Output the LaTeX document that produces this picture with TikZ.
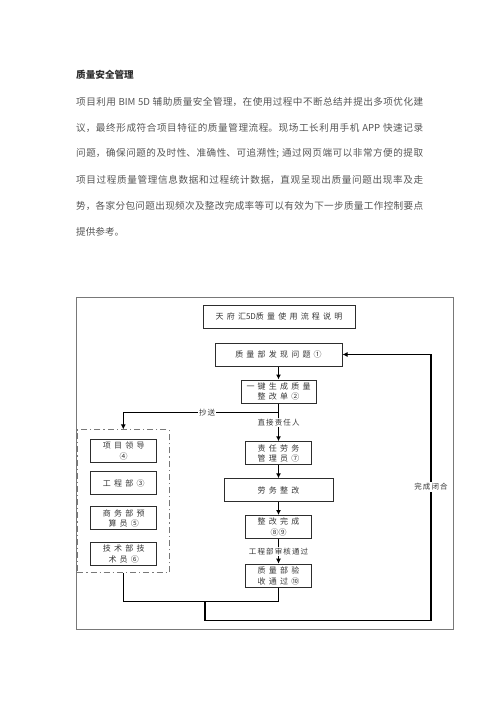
\documentclass[tikz,border=0pt]{standalone}
\usepackage{fontspec}
\usepackage{xcolor}
\setmainfont{Noto Sans CJK SC}
\newfontfamily\boxfont[LetterSpace=40]{Noto Sans CJK SC}
\newfontfamily\lblfont[LetterSpace=15]{Noto Sans CJK SC}
\usetikzlibrary{arrows.meta,positioning}
\XeTeXlinebreaklocale "zh"
\XeTeXlinebreakskip=0pt plus 1pt
\definecolor{bodygray}{RGB}{85,85,85}
\definecolor{headgray}{RGB}{45,45,45}
\definecolor{textgray}{RGB}{55,55,55}
\definecolor{boxline}{RGB}{45,45,45}
\definecolor{framegray}{RGB}{120,120,120}
\newcommand\paraline[1]{\vbox{\hsize=347pt\parindent=0pt\parfillskip=0pt\leavevmode #1\par}}
\newcommand\tight[1]{{\addfontfeatures{LetterSpace=0.0}#1}}

\begin{document}
\begin{tikzpicture}[
  x=1pt, y=-1pt,
  para/.style={anchor=west, inner sep=0pt, text=bodygray, font=\fontsize{9.6}{12}\selectfont},
  proc/.style={draw=boxline, line width=1pt, align=center, minimum height=23pt, inner sep=1pt, fill=white, text=textgray, font=\boxfont\fontsize{8}{10.5}\selectfont},
  lbl/.style={fill=white, inner sep=1pt, text=textgray, font=\lblfont\fontsize{7.5}{9}\selectfont},
  arrow/.style={-{Latex[length=5pt,width=5pt]}, line width=1.1pt},
  link/.style={line width=1.1pt},
  ccbox/.style={draw=framegray, line width=1pt, dash pattern=on 6pt off 3pt on 1.2pt off 3pt, minimum width=92pt, minimum height=142.7pt}
]
\useasboundingbox (0,0) rectangle (500,707);

% text above the chart
\node[para, text=headgray, font=\bfseries\fontsize{9.6}{12}\selectfont] (head) at (76,75) {质量安全管理};
\node[para] (l1) at (76,101.7) {\paraline{项目利用 BIM 5D 辅助质量安全管理，在使用过程中不断总结并提出多项优化建}};
\node[para] (l2) at (76,127.7) {\paraline{议，最终形成符合项目特征的质量管理流程。现场工长利用手机 APP 快速记录}};
\node[para] (l3) at (76,153.7) {\paraline{问题，确保问题的及时性、准确性、可追溯性; 通过网页端可以非常方便的提取}};
\node[para] (l4) at (76,179.7) {\paraline{项目过程质量管理信息数据和过程统计数据，直观呈现出质量问题出现率及走}};
\node[para] (l5) at (76,205.7) {\paraline{势，各家分包问题出现频次及整改完成率等可以有效为下一步质量工作控制要点}};
\node[para] (l6) at (76,231.7) {提供参考。};

% chart frame
\draw[draw=framegray, line width=1pt] (76,297) rectangle (453,629);

% main column
\node[proc, minimum width=152pt] (title) at (279,316.5) {天府汇\tight{5D}质量使用流程说明};
\node[proc, minimum width=127pt] (find) at (278.5,354.5) {质量部发现问题①};
\node[proc, minimum width=75pt] (order) at (278.5,391.5) {一键生成质量\\整改单②};
\node[proc, minimum width=66pt] (duty) at (278.5,453.3) {责任劳务\\管理员⑦};
\node[proc, minimum width=109pt] (labor) at (278.5,490.3) {劳务整改};
\node[proc, minimum width=66pt] (done) at (278.5,527) {整改完成\\\tight{⑧⑨}};
\node[proc, minimum width=66pt] (check) at (278.5,575.7) {质量部验\\收通过⑩};

% copied parties
\node[ccbox] (cc) at (123.3,501.3) {};
\node[proc, minimum width=66pt] (lead) at (123.7,451) {项目领导\\④};
\node[proc, minimum width=66pt] (eng) at (123.7,483.3) {工程部③};
\node[proc, minimum width=66pt] (biz) at (123.7,518.3) {商务部预\\算员⑤};
\node[proc, minimum width=66pt] (tech) at (123.7,554) {技术部技\\术员⑥};

% connectors
\coordinate (split) at (278.5,412.3);
\draw[arrow] (find) -- (order);
\draw[arrow] (order) -- (duty) node[lbl, pos=0.5] {直接责任人};
\draw[arrow] (split) -| (cc.north) node[lbl, pos=0.23] {抄送};
\draw[arrow] (duty) -- (labor);
\draw[arrow] (labor) -- (done);
\draw[arrow] (done) -- (check) node[lbl, pos=0.5] {工程部审核通过};

\coordinate (merge) at (205,601.7);
\coordinate (loop) at (431,620.7);
\draw[link] (cc.south) |- (merge) -| (check.south);
\draw[arrow] (merge) |- (loop) |- (find.east);
\node[lbl] (closed) at (431,487) {完成闭合};
\end{tikzpicture}
\end{document}
